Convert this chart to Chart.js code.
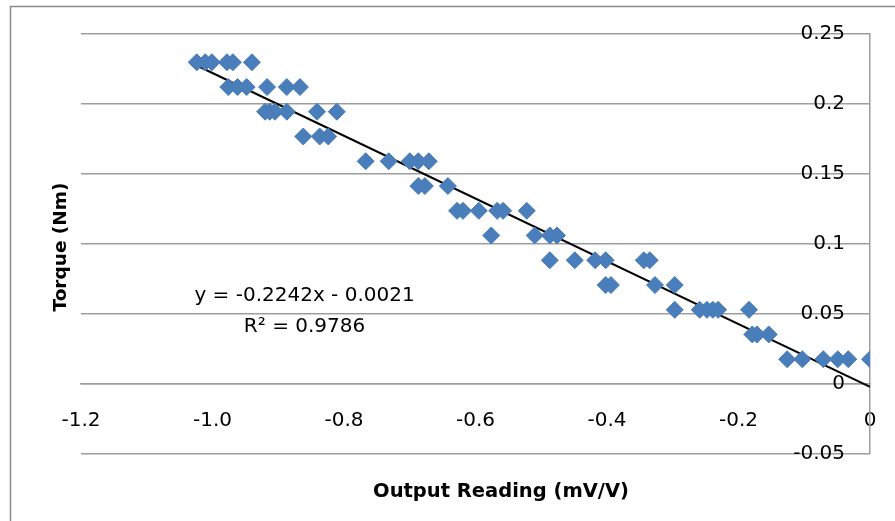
<!DOCTYPE html>
<html>
<head>
<meta charset="utf-8">
<script src="https://cdn.jsdelivr.net/npm/chart.js@4"></script>
<style>
  html, body { margin: 0; padding: 0; background: #fff; }
  #chart { display: block; }
</style>
</head>
<body>
<canvas id="chart" width="895" height="521"></canvas>
<script>
// Output reading (mV/V) vs torque (Nm)
const outputReading = [
  -1.024, -1.011, -1.001, -0.978, -0.969, -0.940,
  -0.976, -0.962, -0.948, -0.917, -0.887, -0.867,
  -0.920, -0.913, -0.905, -0.887, -0.841, -0.811,
  -0.862, -0.837, -0.824,
  -0.767, -0.732, -0.700, -0.687, -0.671,
  -0.687, -0.677, -0.642,
  -0.628, -0.619, -0.595, -0.567, -0.558, -0.522,
  -0.576, -0.510, -0.487, -0.476,
  -0.487, -0.449, -0.418, -0.402, -0.344, -0.335,
  -0.402, -0.394, -0.327, -0.297,
  -0.297, -0.259, -0.248, -0.239, -0.231, -0.184,
  -0.179, -0.172, -0.154,
  -0.126, -0.103, -0.071, -0.049, -0.033, 0
];
const torque = [
  0.2298, 0.2298, 0.2298, 0.2298, 0.2298, 0.2298,
  0.2121, 0.2121, 0.2121, 0.2121, 0.2121, 0.2121,
  0.1945, 0.1945, 0.1945, 0.1945, 0.1945, 0.1945,
  0.1768, 0.1768, 0.1768,
  0.1591, 0.1591, 0.1591, 0.1591, 0.1591,
  0.1414, 0.1414, 0.1414,
  0.1237, 0.1237, 0.1237, 0.1237, 0.1237, 0.1237,
  0.1061, 0.1061, 0.1061, 0.1061,
  0.0884, 0.0884, 0.0884, 0.0884, 0.0884, 0.0884,
  0.0707, 0.0707, 0.0707, 0.0707,
  0.0530, 0.0530, 0.0530, 0.0530, 0.0530, 0.0530,
  0.0354, 0.0354, 0.0354,
  0.0177, 0.0177, 0.0177, 0.0177, 0.0177, 0.0177
];

// linear trendline from the picture
const trendSlope = -0.2242;
const trendIntercept = -0.0021;
const trendLabel = ["y = -0.2242x - 0.0021", "R² = 0.9786"];

const xTitle = "Output Reading (mV/V)";
const yTitle = "Torque (Nm)";

const FONT = "'DejaVu Sans', sans-serif";

const points = outputReading.map((x, i) => ({ x: x, y: torque[i] }));
const xMin = Math.min(...outputReading);
const xMax = Math.max(...outputReading);
const trend = [xMin, xMax].map(x => ({ x: x, y: trendSlope * x + trendIntercept }));

// frame, axis titles and trendline text
const extras = {
  id: "extras",
  beforeDraw(chart) {
    const ctx = chart.ctx;
    ctx.save();
    ctx.fillStyle = "#fff";
    ctx.fillRect(0, 0, chart.width, chart.height);
    ctx.strokeStyle = "#8a8a8a";
    ctx.lineWidth = 1.5;
    ctx.strokeRect(10.5, 6.5, 1000, 1000);
    ctx.restore();
  },
  afterDraw(chart) {
    const ctx = chart.ctx;
    const xs = chart.scales.x;
    const ys = chart.scales.y;
    ctx.save();
    ctx.fillStyle = "#000";
    ctx.textAlign = "center";
    ctx.textBaseline = "middle";

    ctx.font = "bold 19.5px " + FONT;
    ctx.fillText(xTitle, 501, 492);

    ctx.save();
    ctx.translate(61, 247);
    ctx.rotate(-Math.PI / 2);
    ctx.font = "bold 18.5px " + FONT;
    ctx.fillText(yTitle, 0, 0);
    ctx.restore();

    ctx.font = "20px " + FONT;
    const lx = xs.getPixelForValue(-0.86);
    ctx.fillText(trendLabel[0], lx, ys.getPixelForValue(0.0629));
    ctx.fillText(trendLabel[1], lx, ys.getPixelForValue(0.0407));
    ctx.restore();
  }
};

new Chart(document.getElementById("chart"), {
  type: "scatter",
  data: {
    datasets: [
      {
        label: "Torque",
        data: points,
        pointStyle: "rectRot",
        pointRadius: 8.5,
        backgroundColor: "#4a7ebb",
        borderColor: "#4a7ebb",
        borderWidth: 1
      },
      {
        type: "line",
        label: "Linear",
        data: trend,
        borderColor: "#000",
        borderWidth: 2,
        pointRadius: 0,
        fill: false
      }
    ]
  },
  options: {
    responsive: false,
    animation: false,
    layout: { padding: { left: 81, top: 34, bottom: 67, right: 0 } },
    plugins: {
      legend: { display: false },
      tooltip: { enabled: false }
    },
    scales: {
      x: {
        type: "linear",
        min: -1.2,
        max: 0,
        position: { y: 0 },
        // labels sit below the zero line, don't let them push the plot area
        afterFit: s => { s.paddingLeft = 0; s.paddingRight = 0; },
        grid: { display: false, drawTicks: false },
        border: { display: true, color: "#9d9d9d", width: 1.5 },
        ticks: {
          stepSize: 0.2,
          padding: 25,
          color: "#000",
          font: { family: FONT, size: 20 }
        }
      },
      y: {
        type: "linear",
        min: -0.05,
        max: 0.25,
        position: "right",
        afterFit: s => { s.width = 25; },
        grid: { color: "#9d9d9d", lineWidth: 1.5, drawTicks: false },
        border: { color: "#9d9d9d", width: 1.5 },
        ticks: {
          stepSize: 0.05,
          mirror: true,
          padding: -25,
          color: "#000",
          font: { family: FONT, size: 20 },
          callback: v => String(+v.toFixed(2))
        }
      }
    }
  },
  plugins: [extras]
});
</script>
</body>
</html>
